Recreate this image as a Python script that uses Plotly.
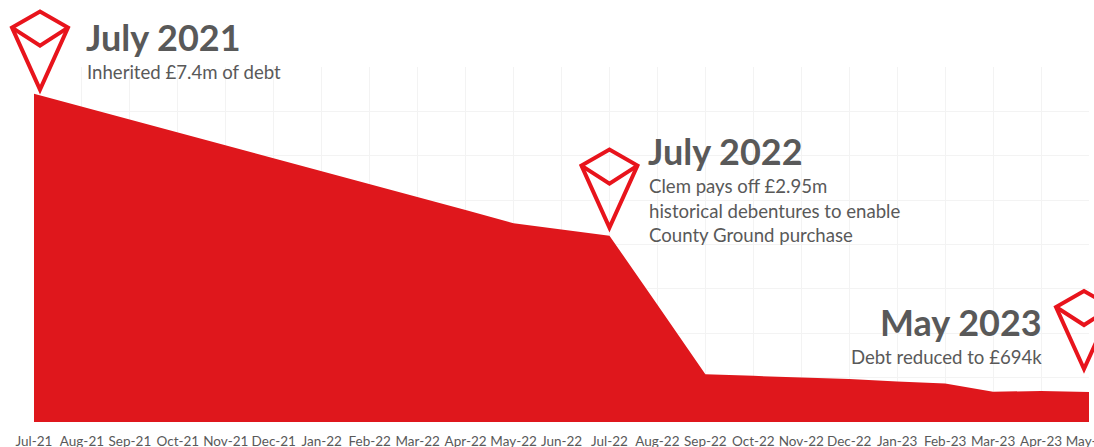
import plotly.graph_objects as go

months = ["Jul-21","Aug-21","Sep-21","Oct-21","Nov-21","Dec-21","Jan-22","Feb-22","Mar-22","Apr-22","May-22","Jun-22",
          "Jul-22","Aug-22","Sep-22","Oct-22","Nov-22","Dec-22","Jan-23","Feb-23","Mar-23","Apr-23","May-23"]
debt_m = [7.4,7.11,6.82,6.53,6.24,5.95,5.66,5.37,5.08,4.78,4.48,4.34,
          4.2,2.64,1.075,1.04,1.01,0.97,0.91,0.87,0.68,0.70,0.676]
y_max = 8
pins = ["Jul-21","Jul-22","May-23"]
pin_dx = [6, 0, -5]
pin_dy = [4, 8, 23]

GREY = "#595959"
RED = "#df171c"
FONT = "Lato"

fig = go.Figure(go.Scatter(x=months, y=debt_m, mode="lines", line=dict(width=0, color=RED),
                           fill="tozeroy", fillcolor=RED, hoverinfo="skip"))

def pin(month, dx, dy):
    i = months.index(month)
    outer = f"M{dx},{dy} L{dx-28},{dy+62} L{dx},{dy+78} L{dx+28},{dy+62} Z"
    inner = f"M{dx-28},{dy+62} L{dx},{dy+44} L{dx+28},{dy+62}"
    return [dict(type="path", xref="paper", yref="paper", xsizemode="pixel", ysizemode="pixel",
                 xanchor=i/(len(months)-1), yanchor=debt_m[i]/y_max, path=p,
                 line=dict(color="#e8141c", width=4), layer="above")
            for p in (outer, inner)]

shapes = []
for m, dx, dy in zip(pins, pin_dx, pin_dy):
    shapes += pin(m, dx, dy)

def note(month, dx, dy, text, size, anchor, bold=False):
    i = months.index(month)
    return dict(x=month, y=debt_m[i], xref="x", yref="y", xanchor=anchor, yanchor="middle", xshift=dx, yshift=dy,
                text=f"<b>{text}</b>" if bold else text, showarrow=False, align="left",
                font=dict(family=FONT, size=size, color=GREY))

annotations = [
    note("Jul-21", 50, 57, "July 2021", 36, "left", True),
    note("Jul-21", 51, 22, "Inherited £7.4m of debt", 18.6, "left"),
    note("Jul-22", 37, 85, "July 2022", 36, "left", True),
    note("Jul-22", 38, 50, "Clem pays off £2.95m", 18.6, "left"),
    note("Jul-22", 38, 25, "historical debentures to enable", 18.6, "left"),
    note("Jul-22", 38, 1, "County Ground purchase", 18.6, "left"),
    note("May-23", -45, 70, "May 2023", 36, "right", True),
    note("May-23", -45, 35, "Debt reduced to £694k", 18.6, "right"),
]

fig.update_layout(
    width=1094, height=447, autosize=False,
    margin=dict(l=34, r=5, t=67, b=25, pad=0),
    paper_bgcolor="white", plot_bgcolor="white", showlegend=False,
    font=dict(family=FONT, color=GREY),
    shapes=shapes, annotations=annotations,
    xaxis=dict(type="category", categoryorder="array", categoryarray=months, range=[0, len(months)-1],
               tickmode="array", tickvals=months, ticktext=months, tickangle=0, ticklabeloverflow="allow",
               automargin=False, ticklabelstandoff=9,
               showgrid=True, gridcolor="#f3f3f3", gridwidth=1, showline=False, zeroline=False, ticks="",
               tickfont=dict(family=FONT, size=13.5, color=GREY)),
    yaxis=dict(range=[0, y_max], dtick=1, showgrid=True, gridcolor="#f3f3f3", gridwidth=1, automargin=False,
               showticklabels=False, zeroline=False, showline=False, ticks=""),
)
fig.write_html("out.html", config=dict(displayModeBar=False),
               post_script="document.body.style.margin='0';document.documentElement.style.overflow='hidden';")
